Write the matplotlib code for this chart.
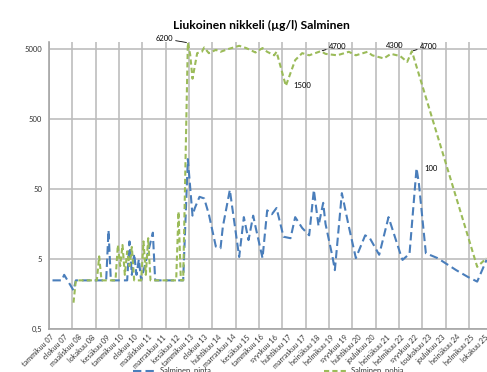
import numpy as np
import matplotlib
matplotlib.use("Agg")
import matplotlib.pyplot as plt
from matplotlib.lines import Line2D
from matplotlib.ticker import FixedLocator, NullFormatter

plt.rcParams['font.family'] = ['Lato', 'DejaVu Sans']

# category axis: one slot per sampling, labels every 6th slot
n_cat = 188
kuukaudet = ["tammikuu 07", "elokuu 07", "maaliskuu 08", "lokakuu 08", "kesäkuu 09",
             "tammikuu 10", "elokuu 10", "maaliskuu 11", "marraskuu 11", "kesäkuu 12",
             "tammikuu 13", "elokuu 13", "huhtikuu 14", "marraskuu 14", "kesäkuu 15",
             "tammikuu 16", "syyskuu 16", "huhtikuu 17", "marraskuu 17", "heinäkuu 18",
             "helmikuu 19", "syyskuu 19", "huhtikuu 20", "joulukuu 20", "heinäkuu 21",
             "helmikuu 22", "syyskuu 22", "toukokuu 23", "joulukuu 23", "heinäkuu 24",
             "helmikuu 25", "lokakuu 25"]

# Salminen, pinta (surface)
pinta_i = [1, 5, 6, 10, 11, 24, 25, 26, 33, 34, 35, 36, 37, 38, 39, 44, 45, 57,
           59, 61, 62, 64, 66, 68, 71, 73, 74, 77, 78, 81, 83, 85, 87, 88, 91, 93,
           95, 97, 100, 103, 105, 108, 111, 113, 115, 117, 118, 121, 122, 125, 128,
           131, 135, 137, 141, 145, 150, 151, 154, 157, 158, 161, 166, 174, 179, 183, 187]
pinta = [2.5, 2.5, 3.0, 1.8, 2.5, 2.5, 13, 2.5, 2.5, 9, 3, 6, 3, 5, 2.5, 12, 2.5, 2.5,
         135, 21, 27, 39, 37, 22, 7.6, 7.2, 14.6, 49, 28, 5.4, 20, 9.4, 21, 14.6, 5.2, 25,
         22, 27, 10.5, 10, 20, 14, 11, 49, 15, 32, 16, 5.4, 3.5, 44, 14.6,
         5.2, 11, 10, 5.8, 20, 6.1, 4.9, 6, 100, 61, 6.1, 5.2, 3.5, 2.8, 2.4, 4.9]

# Salminen, pohja (bottom)
pohja_i = [10, 11, 20, 21, 22, 28, 29, 30, 31, 32, 33, 34, 35, 36, 39, 40, 41, 42, 43,
           54, 55, 56, 57, 59, 60, 61, 63, 65, 66, 68, 71, 73, 76, 81, 84, 88, 91, 93,
           96, 97, 101, 105, 108, 111, 116, 118, 123, 128, 131, 136, 138, 143, 146,
           150, 153, 155, 183, 185, 187]
pohja = [1.2, 2.5, 2.5, 5.5, 2.5, 2.5, 8, 4, 8, 3, 6.5, 4, 7.5, 2.5, 2.5, 9, 3, 10, 2.5,
         2.5, 24, 2.5, 2.5, 6200, 4200, 1900, 4400, 4600, 5300, 4400, 4900, 4600, 5000,
         5600, 5200, 4500, 5200, 4600, 4100, 4600, 1500, 3500, 4400, 4100, 4700, 4300,
         4100, 4600, 4100, 4600, 4100, 3700, 4300, 4000, 3300, 4700, 3.9, 4.5, 5.2]

BLUE = '#4A7EBB'
GREEN = '#9BBB59'
blue_dash = (4, 2)
green_dash = (2.5, 1.5)

fig = plt.figure(figsize=(4.87, 3.72), dpi=100)
ax = fig.add_axes([49 / 487, 1 - 329.3 / 372, 438.7 / 487, 287.3 / 372])

ax.plot(pinta_i, pinta, color=BLUE, lw=1.5, dashes=blue_dash)
ax.plot(pohja_i, pohja, color=GREEN, lw=1.5, dashes=green_dash)

ax.set_yscale('log')
ax.set_ylim(0.5, 6350)
ax.set_xlim(-0.5, n_cat - 0.5)

ax.yaxis.set_major_locator(FixedLocator([0.5, 5, 50, 500, 5000]))
ax.yaxis.set_minor_formatter(NullFormatter())
ax.yaxis.set_minor_locator(FixedLocator([]))
ax.set_yticklabels(['0,5', '5', '50', '500', '5000'], fontsize=5.5, color='#333333')

ax.set_xticks(np.arange(0, n_cat, 6))
ax.set_xticklabels(kuukaudet, rotation=45, ha='right', va='top', rotation_mode='anchor',
                   fontsize=5.2, color='#333333')
ax.set_xticks(np.arange(-0.5, n_cat, 10), minor=True)
ax.tick_params(axis='both', which='both', length=0)
ax.tick_params(axis='y', pad=5)
ax.tick_params(axis='x', pad=3)

ax.grid(True, axis='y', which='major', color='#BDBDBD', lw=1.2)
ax.grid(True, axis='x', which='minor', color='#BDBDBD', lw=1.2)
ax.set_axisbelow(True)
for side in ['top', 'right']:
    ax.spines[side].set_visible(False)
for side in ['left', 'bottom']:
    ax.spines[side].set_color('#A6A6A6')
    ax.spines[side].set_linewidth(1.2)

# value labels
lead = dict(arrowstyle='-', color='black', lw=0.6, shrinkA=0, shrinkB=1)
ax.annotate('6200', (59, 6200), xytext=(-15, 4), textcoords='offset pixels',
            ha='right', va='center', fontsize=5.5, arrowprops=lead)
ax.annotate('1500', (101, 1500), xytext=(8, 0), textcoords='offset pixels',
            ha='left', va='center', fontsize=5.5)
ax.annotate('4700', (116, 4700), xytext=(8, 5), textcoords='offset pixels',
            ha='left', va='center', fontsize=5.5, arrowprops=lead)
ax.annotate('4300', (146, 4300), xytext=(4, 8), textcoords='offset pixels',
            ha='center', va='center', fontsize=5.5)
ax.annotate('4700', (155, 4700), xytext=(8, 5), textcoords='offset pixels',
            ha='left', va='center', fontsize=5.5, arrowprops=lead)
ax.annotate('100', (157, 100), xytext=(8, 0), textcoords='offset pixels',
            ha='left', va='center', fontsize=5.5)

fig.text(261 / 487, 1 - 25 / 372, 'Liukoinen nikkeli (µg/l) Salminen',
         ha='center', va='center', fontsize=8.7, fontweight='bold')

# legend entries along the bottom edge of the chart
ly = 1 - 370.5 / 372
for x0, col, dsh, name in [(133, BLUE, blue_dash, 'Salminen, pinta'),
                           (324, GREEN, green_dash, 'Salminen, pohja')]:
    fig.add_artist(Line2D([x0 / 487, (x0 + 22) / 487], [ly, ly], color=col, lw=1.5,
                          dashes=dsh, transform=fig.transFigure))
    fig.text((x0 + 27) / 487, ly, name, ha='left', va='center', fontsize=5.5,
             color='#333333')

fig.savefig('out.png', dpi=100)
